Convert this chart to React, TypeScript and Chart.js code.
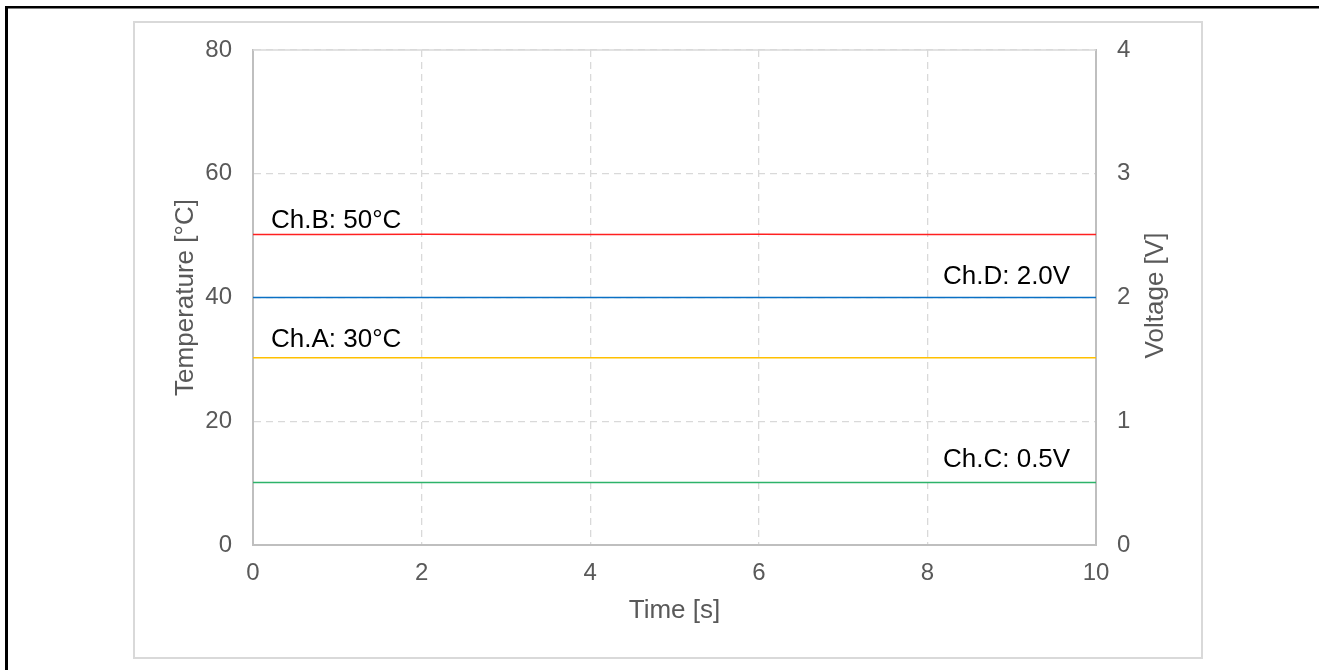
import React, { useEffect, useRef } from "react";
import { Chart, registerables } from "chart.js";

Chart.register(...registerables);

// ---- data ----
const timeS = [0, 1, 2, 3, 4, 5, 6, 7, 8, 9, 10];
const chA_temp = [30.28, 30.27, 30.28, 30.28, 30.27, 30.28, 30.28, 30.27, 30.28, 30.28, 30.28];
const chB_temp = [50.2, 50.2, 50.21, 50.2, 50.2, 50.2, 50.21, 50.2, 50.2, 50.2, 50.2];
const chC_volt = [0.505, 0.505, 0.505, 0.505, 0.505, 0.505, 0.505, 0.505, 0.505, 0.505, 0.505];
const chD_volt = [2.0, 2.0, 2.0, 2.0, 2.0, 2.0, 2.0, 2.0, 2.0, 2.0, 2.0];

const seriesNames = ["Ch.A", "Ch.B", "Ch.C", "Ch.D"];
const seriesLabels = ["Ch.A: 30°C", "Ch.B: 50°C", "Ch.C: 0.5V", "Ch.D: 2.0V"];

const tempRange = [0, 80];
const tempStep = 20;
const voltRange = [0, 4];
const voltStep = 1;
const timeRange = [0, 10];
const timeStep = 2;

const xTitle = "Time [s]";
const yTitle = "Temperature [°C]";
const y2Title = "Voltage [V]";

const FONT = "'Liberation Sans', Arial, Helvetica, sans-serif";
const GRAY = "#595959";

const decorPlugin = {
  id: "decor",
  beforeDraw(chart: any) {
    const ctx = chart.ctx;
    ctx.save();
    ctx.fillStyle = "#ffffff";
    ctx.fillRect(0, 0, chart.width, chart.height);
    // black frame (top & left)
    ctx.fillStyle = "#000000";
    ctx.fillRect(5, 6, chart.width - 5, 2.5);
    ctx.fillRect(5, 6, 3, chart.height - 6);
    // light gray chart box
    ctx.strokeStyle = "#d9d9d9";
    ctx.lineWidth = 2;
    ctx.strokeRect(134, 22, 1068, 636);
    ctx.restore();
  },
  beforeDatasetsDraw(chart: any) {
    const ctx = chart.ctx;
    const a = chart.chartArea;
    ctx.save();
    ctx.strokeStyle = "#d9d9d9";
    ctx.lineWidth = 1.5;
    ctx.beginPath();
    ctx.moveTo(a.left, a.top);
    ctx.lineTo(a.right, a.top);
    ctx.stroke();
    ctx.restore();
  },
  afterDraw(chart: any) {
    const ctx = chart.ctx;
    const a = chart.chartArea;
    const ys = chart.scales.y;
    const y2s = chart.scales.y2;
    ctx.save();
    // axis titles
    ctx.fillStyle = GRAY;
    ctx.font = `26px ${FONT}`;
    ctx.textAlign = "center";
    ctx.textBaseline = "middle";
    ctx.fillText(xTitle, (a.left + a.right) / 2, 611);
    const cy = (a.top + a.bottom) / 2;
    ctx.save();
    ctx.translate(186, cy);
    ctx.rotate(-Math.PI / 2);
    ctx.fillText(yTitle, 0, 0);
    ctx.restore();
    ctx.save();
    ctx.translate(1156, cy - 2);
    ctx.rotate(-Math.PI / 2);
    ctx.fillText(y2Title, 0, 0);
    ctx.restore();

    // series labels
    ctx.fillStyle = "#000000";
    ctx.textAlign = "left";
    ctx.textBaseline = "alphabetic";
    const leftX = a.left + 18;
    const rightX = a.right - 153;
    ctx.fillText(seriesLabels[1], leftX, ys.getPixelForValue(chB_temp[0]) - 6);
    ctx.fillText(seriesLabels[0], leftX, ys.getPixelForValue(chA_temp[0]) - 11);
    ctx.fillText(seriesLabels[3], rightX, y2s.getPixelForValue(chD_volt[0]) - 14);
    ctx.fillText(seriesLabels[2], rightX, y2s.getPixelForValue(chC_volt[0]) - 16);
    ctx.restore();
  },
};

export default function App() {
  const ref = useRef<HTMLCanvasElement | null>(null);

  useEffect(() => {
    if (!ref.current) return;
    const mk = (arr: number[]) => timeS.map((t, i) => ({ x: t, y: arr[i] }));
    const chart = new Chart(ref.current, {
      type: "line",
      data: {
        datasets: [
          { label: seriesNames[0], data: mk(chA_temp), borderColor: "#ffc000", yAxisID: "y" },
          { label: seriesNames[1], data: mk(chB_temp), borderColor: "#ff2020", yAxisID: "y" },
          { label: seriesNames[2], data: mk(chC_volt), borderColor: "#2db36a", yAxisID: "y2" },
          { label: seriesNames[3], data: mk(chD_volt), borderColor: "#0a70c4", yAxisID: "y2" },
        ].map((d) => ({ ...d, borderWidth: 1.5, pointRadius: 0, tension: 0, fill: false })),
      },
      options: {
        animation: false,
        responsive: false,
        maintainAspectRatio: false,
        events: [],
        layout: { padding: { left: 140, right: 140, top: 50, bottom: 40 } },
        plugins: { legend: { display: false }, tooltip: { enabled: false }, title: { display: false } },
        scales: {
          x: {
            type: "linear",
            min: timeRange[0],
            max: timeRange[1],
            afterFit: (s: any) => { s.height = 85; },
            ticks: { stepSize: timeStep, color: GRAY, font: { family: FONT, size: 24 }, padding: 14, maxRotation: 0 },
            grid: { color: "#d9d9d9", lineWidth: 1.3, drawTicks: false },
            border: { display: true, color: "#bfbfbf", width: 2, dash: [7, 5] },
          },
          y: {
            type: "linear",
            position: "left",
            min: tempRange[0],
            max: tempRange[1],
            afterFit: (s: any) => { s.width = 113; },
            ticks: { stepSize: tempStep, color: GRAY, font: { family: FONT, size: 24 }, padding: 21 },
            grid: { color: "#d9d9d9", lineWidth: 1.3, drawTicks: false },
            border: { display: true, color: "#bfbfbf", width: 2, dash: [7, 5] },
          },
          y2: {
            type: "linear",
            position: "right",
            min: voltRange[0],
            max: voltRange[1],
            afterFit: (s: any) => { s.width = 83; },
            ticks: { stepSize: voltStep, color: GRAY, font: { family: FONT, size: 24 }, padding: 21 },
            grid: { display: false, drawTicks: false },
            border: { display: true, color: "#bfbfbf", width: 2 },
          },
        },
      },
      plugins: [decorPlugin],
    } as any);
    return () => chart.destroy();
  }, []);

  return (
    <div style={{ position: "fixed", left: 0, top: 0, width: 1319, height: 670, background: "#fff" }}>
      <canvas ref={ref} width={1319} height={670} style={{ display: "block", width: 1319, height: 670 }} />
    </div>
  );
}
